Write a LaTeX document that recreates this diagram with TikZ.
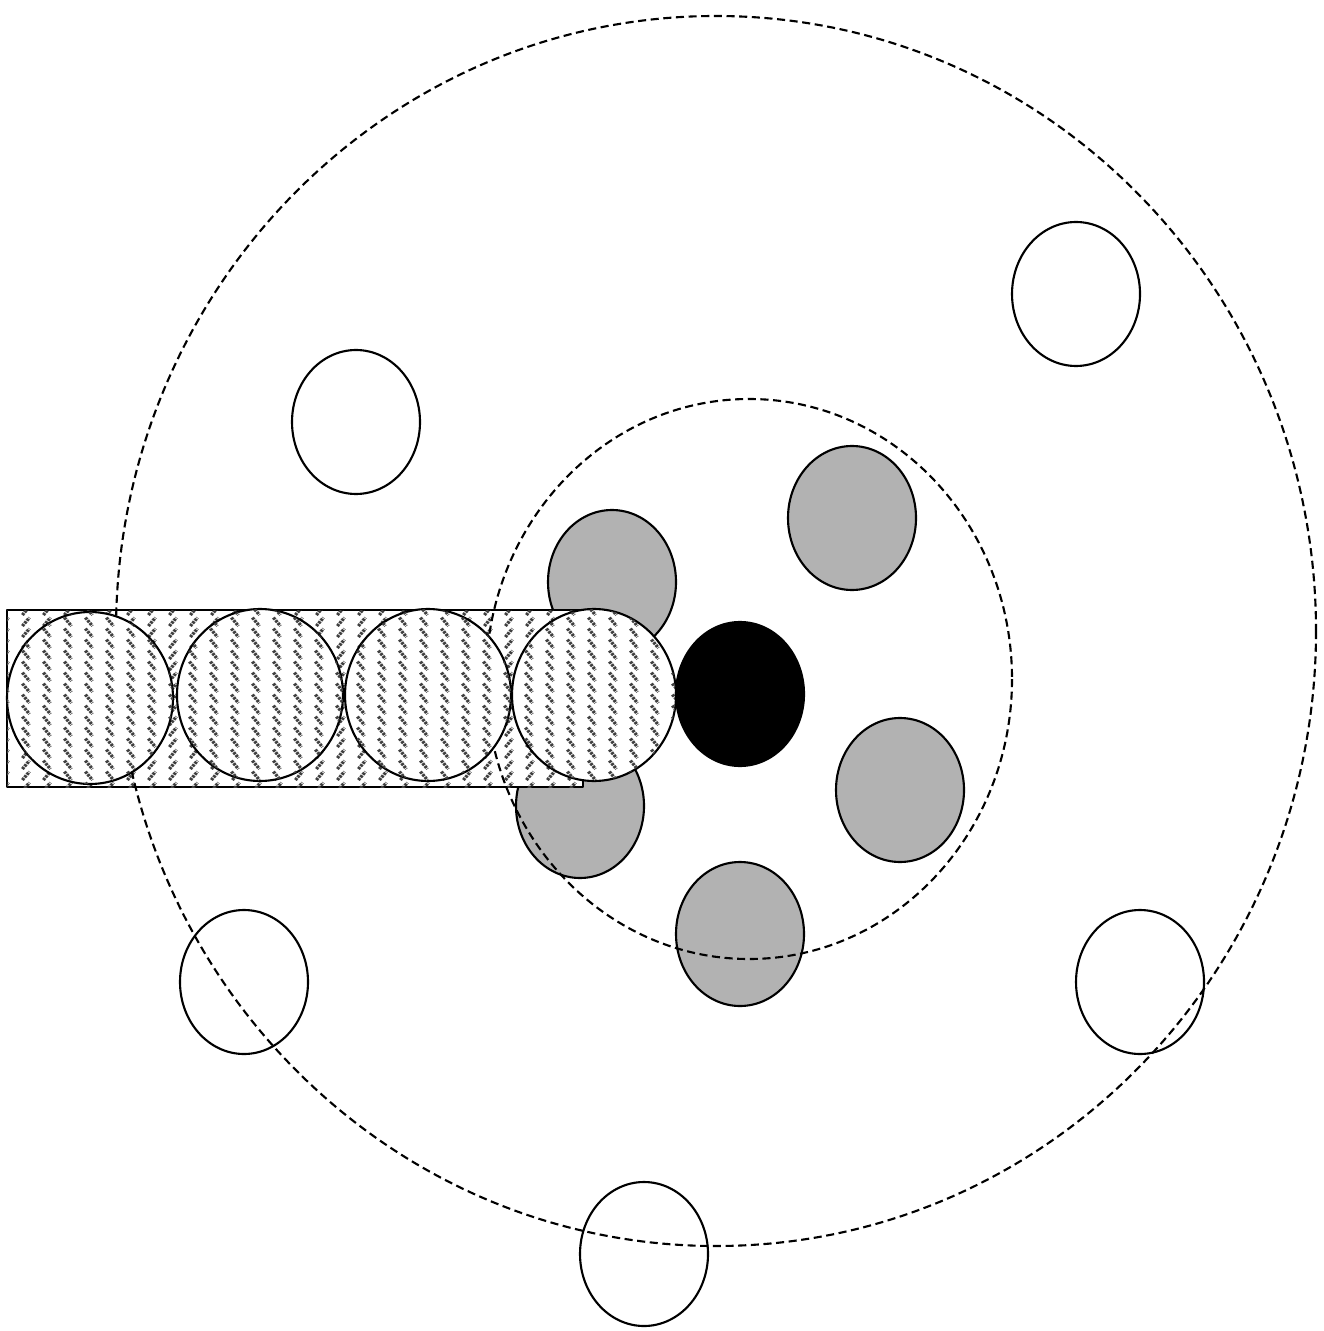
\documentclass[tikz,border=0pt]{standalone}
\usetikzlibrary{patterns.meta}

\tikzdeclarepattern{
  name=backdash,
  type=colored,
  bottom left={(0pt,0pt)},
  top right={(5.97pt,3.13pt)},
  tile size={(5.97pt,3.13pt)},
  code={
    \draw[black!75, line width=0.95pt, dash pattern=on 0.75pt off 0.3pt]
      (0.4pt,2.9pt) -- (2.4pt,0.3pt);
  }
}
\tikzdeclarepattern{
  name=fwddash,
  type=colored,
  bottom left={(0pt,0pt)},
  top right={(5.97pt,3.13pt)},
  tile size={(5.97pt,3.13pt)},
  code={
    \draw[black!75, line width=0.95pt, dash pattern=on 0.75pt off 0.3pt]
      (0.4pt,0.3pt) -- (2.4pt,2.9pt);
  }
}

\tikzset{
  hole/.style={draw, line width=0.6pt},
  pin/.style={draw, fill=black!30, line width=0.6pt},
  core/.style={draw, fill=black, line width=0.6pt},
  roller/.style={draw, fill=white, postaction={pattern=backdash}, line width=0.6pt},
  track/.style={draw, fill=white, postaction={pattern=fwddash}, line width=0.6pt},
  orbit/.style={draw, line width=0.6pt, dash pattern=on 2.3pt off 1.3pt}
}

\begin{document}
\begin{tikzpicture}[x=0.01cm, y=-0.01cm, line join=round]
		\useasboundingbox (0,0) rectangle (1323,1331);
		
		% centres
		\coordinate (O) at (716,631);
		\coordinate (I) at (749,679);
		\coordinate (K) at (740,694);
		
		% grey pins round the core
		\foreach \p in {(612,582),(852,518),(900,790),(740,934),(580,806)}
			\path[pin] \p ellipse (64 and 72);
		
		% the hatched track
		\path[track] (7,610) rectangle (583,787);
		
		% dashed orbits
		\path[orbit] (O) ellipse (600 and 615);
		\path[orbit] (I) ellipse (263 and 280);
		
		% rollers in the track
		\path[roller] (90,698) ellipse (83 and 86);
		\path[roller] (260,695) ellipse (83 and 86);
		\path[roller] (428,695) ellipse (83 and 86);
		\path[roller] (594,695) ellipse (82 and 86);
		
		% black core
		\path[core] (K) ellipse (64 and 72);
		
		% open holes on the outer orbit
		\foreach \p in {(1076,294),(356,422),(244,982),(1140,982),(644,1254)}
			\path[hole] \p ellipse (64 and 72);
\end{tikzpicture}
\end{document}
